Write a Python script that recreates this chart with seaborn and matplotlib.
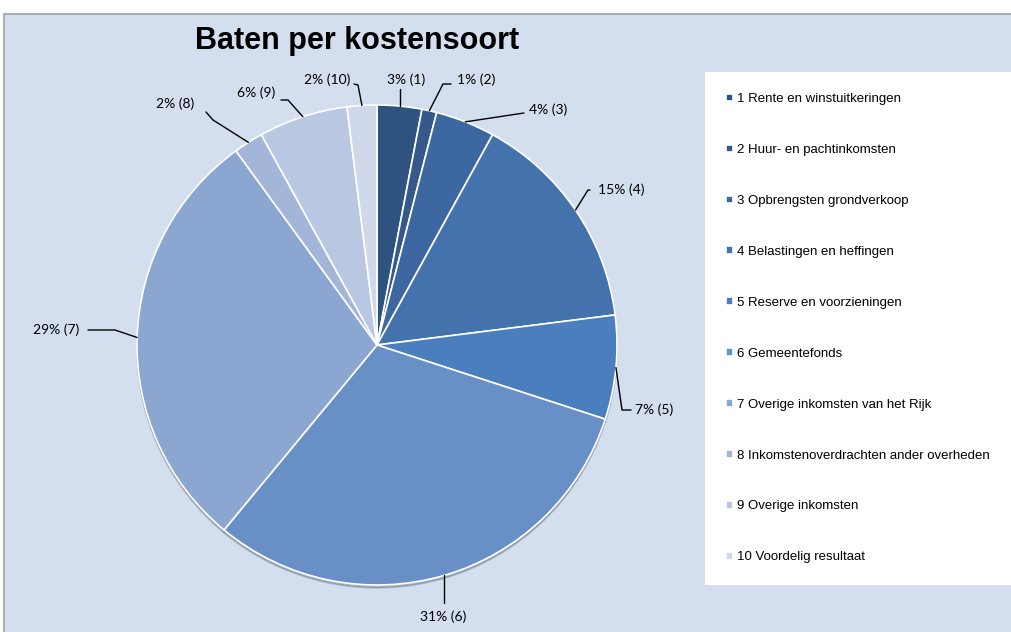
import numpy as np
import matplotlib
matplotlib.use("Agg")
import matplotlib.pyplot as plt
from matplotlib.patches import Rectangle
import seaborn as sns

# data
codes = ["1", "2", "3", "4", "5", "6", "7", "8", "9", "10"]
names = ["Rente en winstuitkeringen", "Huur- en pachtinkomsten",
         "Opbrengsten grondverkoop", "Belastingen en heffingen",
         "Reserve en voorzieningen", "Gemeentefonds",
         "Overige inkomsten van het Rijk",
         "Inkomstenoverdrachten ander overheden", "Overige inkomsten",
         "Voordelig resultaat"]
percent = [3, 1, 4, 15, 7, 31, 29, 2, 6, 2]

colors = ["#2f5381", "#36598c", "#3d67a0", "#4472ac", "#4a7ebc",
          "#6890c6", "#8ba6d0", "#a3b6d9", "#b9c7e2", "#cfd9eb"]

# label layout in pixels (text pos, anchor where the leader meets the label)
label_pos = [(406, 80), (476, 80), (548, 110), (621, 190), (654, 410),
             (443, 617), (56, 330), (175, 104), (256, 93), (327, 80)]
anchors = [(None, 89), (451, 84), (524, 113), (590, 190), (631, 410),
           (None, 603), (88, 330), (206, 112), (281, 100), (354, 84)]
elbows = [None, (443, 84), None, (588, 190), (622, 410),
          None, (115, 330), (213, 120), (288, 100), (358, 85)]

W, H = 1011, 632
cx, cy, R = 377, H - 345, 240

sns.set_theme(style="white")
plt.rcParams['font.family'] = ['Liberation Sans', 'DejaVu Sans']
plt.rcParams['text.color'] = 'black'

fig = plt.figure(figsize=(W / 100, H / 100), dpi=100, facecolor="white")
fig.patches.append(Rectangle((4 / W, -0.01), 1.01, (H - 14) / H + 0.01,
                             transform=fig.transFigure, facecolor="#d3dfee",
                             edgecolor="#a0a0a0", linewidth=1.2, zorder=-10))

ax = fig.add_axes([0, 0, 1, 1])
ax.set_facecolor("none")
wedges, _ = ax.pie(percent, colors=colors, startangle=90, counterclock=False,
                   center=(cx, cy), radius=R,
                   wedgeprops=dict(edgecolor="white", linewidth=1.2),
                   shadow=dict(ox=0, oy=-2, shade=0.6, alpha=0.25))
ax.set_xlim(0, W)
ax.set_ylim(0, H)
ax.set_aspect("equal")
ax.axis("off")

# data labels with leader lines
for w, p, code, (tx, ty), anc, elb in zip(wedges, percent, codes, label_pos, anchors, elbows):
    ang = np.deg2rad((w.theta1 + w.theta2) / 2)
    sx, sy = cx + R * np.cos(ang), cy + R * np.sin(ang)
    ax_, ay_ = anc
    if ax_ is None:
        ax_ = sx
    pts = [(sx, sy)]
    if elb is not None:
        pts.append((elb[0], H - elb[1]))
    pts.append((ax_, H - ay_))
    xs, ys = zip(*pts)
    ax.plot(xs, ys, color="black", lw=1)
    ax.text(tx, H - ty, f"{p}% ({code})", ha="center", va="center",
            fontsize=10, family=["Lato", "DejaVu Sans"], color="black")

ax.text(357, H - 41, "Baten per kostensoort", ha="center", va="center",
        fontsize=22, fontweight="bold", color="black")

leg = ax.legend(wedges, [f"{c} {n}" for c, n in zip(codes, names)],
                loc="upper left", bbox_to_anchor=(705 / W, 52 / H, 320 / W, (H - 72 - 52) / H),
                mode="expand", fontsize=9.5, frameon=True, fancybox=False,
                framealpha=1, borderaxespad=0, borderpad=1.6, labelspacing=2.95,
                handlelength=0.5, handleheight=0.5, handletextpad=0.3)
leg.get_frame().set_facecolor("white")
leg.get_frame().set_edgecolor("white")
leg.get_frame().set_linewidth(0)
for t in leg.get_texts():
    t.set_color("black")

fig.savefig("out.png", dpi=100, facecolor="white")
